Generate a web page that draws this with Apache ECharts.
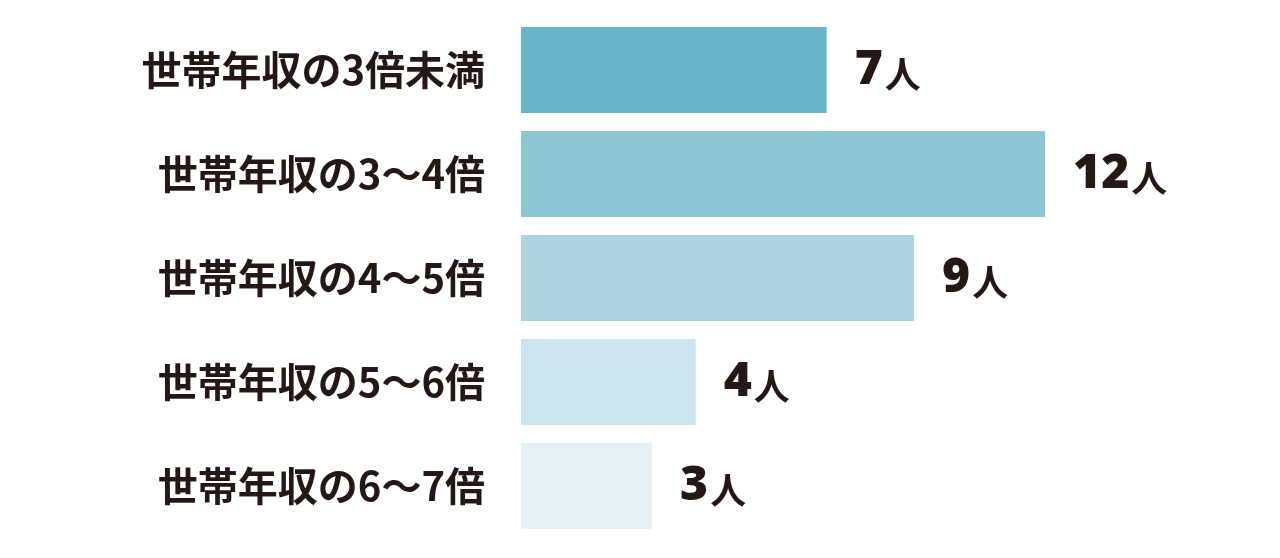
<!DOCTYPE html>
<html><head><meta charset="utf-8">
<script src="https://cdn.jsdelivr.net/npm/echarts@6/dist/echarts.min.js"></script>
<style>html,body{margin:0;padding:0;background:#fff}#c{width:1280px;height:558px}</style>
</head><body><div id="c"></div>
<script>
const categories = ['世帯年収の3倍未満','世帯年収の3～4倍','世帯年収の4～5倍','世帯年収の5～6倍','世帯年収の6～7倍'];
const values = [7, 12, 9, 4, 3];
const colors = ['#66b5c8','#8dc5d4','#add3de','#cce4eb','#e6f1f6'];
const chart = echarts.init(document.getElementById('c'));
chart.setOption({
  animation:false,
  grid:{left:521, width:524, top:18, height:520},
  xAxis:{type:'value', min:0, max:12, show:false},
  yAxis:{type:'category', inverse:true, data:categories,
    axisLine:{show:false}, axisTick:{show:false},
    axisLabel:{margin:36, color:'#231815', fontSize:40, fontWeight:'bold',
      fontFamily:'"Noto Sans CJK JP", sans-serif'}},
  series:[{type:'bar', barWidth:86,
    data: values.map((v,i)=>({value:v, itemStyle:{color:colors[i]}})),
    label:{show:true, position:'right', distance:28,
      formatter: p => '{n|'+p.value+'}{u|人}',
      rich:{
        n:{fontSize:48, fontWeight:900, color:'#231815', fontFamily:'"Noto Sans", sans-serif', padding:[0,2,0,0]},
        u:{fontSize:36, fontWeight:'bold', color:'#231815', fontFamily:'"Noto Sans CJK JP", sans-serif', padding:[8,0,0,0]}
      }}
  }]
});
</script></body></html>
